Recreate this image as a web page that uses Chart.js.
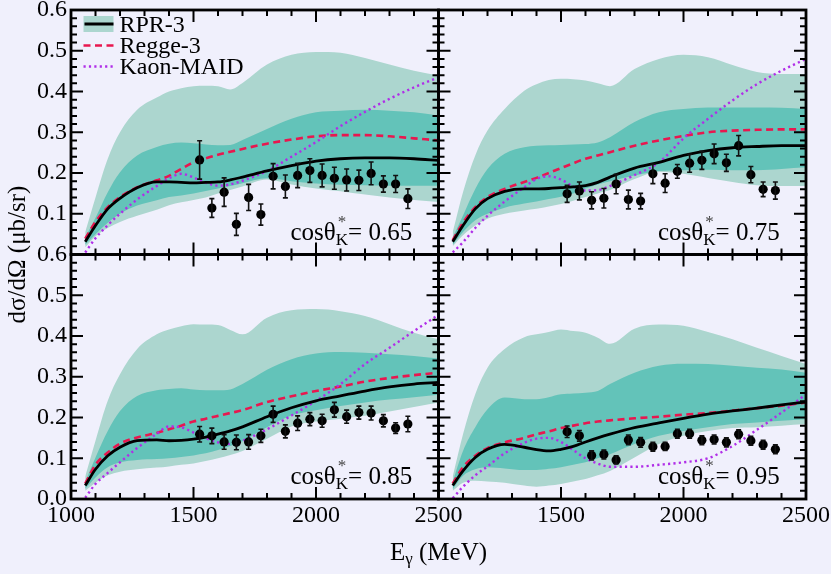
<!DOCTYPE html>
<html>
<head>
<meta charset="utf-8">
<script src="https://cdn.jsdelivr.net/npm/chart.js@4.4.1/dist/chart.umd.min.js"></script>
<style>
  html, body { margin: 0; padding: 0; background: #f0f0fc; }
  #wrap { width: 831px; height: 574px; position: relative; }
</style>
</head>
<body>
<div id="wrap"><canvas id="chart" width="831" height="574"></canvas></div>
<script>
// Photon energy grid (MeV) for the model curves
const energyGrid = [1058, 1100, 1150, 1200, 1270, 1350, 1400, 1450, 1500, 1550, 1600, 1650, 1700, 1800, 1900, 2000, 2100, 2200, 2300, 2400, 2500];

// cos = 0.65
const rpr065     = [0.031, 0.071, 0.112, 0.138, 0.164, 0.178, 0.178, 0.177, 0.176, 0.177, 0.178, 0.183, 0.190, 0.205, 0.218, 0.229, 0.235, 0.237, 0.237, 0.235, 0.231];
const regge065   = [0.039, 0.080, 0.116, 0.141, 0.165, 0.182, 0.193, 0.210, 0.226, 0.236, 0.245, 0.252, 0.259, 0.272, 0.282, 0.290, 0.293, 0.293, 0.290, 0.285, 0.280];
const maid065    = [0.005, 0.040, 0.072, 0.100, 0.135, 0.168, 0.187, 0.198, 0.189, 0.176, 0.169, 0.172, 0.181, 0.205, 0.240, 0.276, 0.315, 0.350, 0.382, 0.410, 0.435];
const outerHi065 = [0.055, 0.140, 0.235, 0.300, 0.355, 0.385, 0.400, 0.408, 0.413, 0.414, 0.413, 0.405, 0.421, 0.466, 0.490, 0.497, 0.495, 0.482, 0.466, 0.451, 0.439];
const innerHi065 = [0.042, 0.090, 0.153, 0.202, 0.243, 0.264, 0.272, 0.275, 0.273, 0.270, 0.268, 0.269, 0.281, 0.308, 0.333, 0.349, 0.353, 0.355, 0.353, 0.349, 0.341];
const innerLo065 = [0.024, 0.050, 0.078, 0.100, 0.120, 0.133, 0.141, 0.145, 0.150, 0.156, 0.162, 0.168, 0.175, 0.187, 0.180, 0.174, 0.171, 0.170, 0.169, 0.169, 0.169];
const outerLo065 = [0.018, 0.045, 0.065, 0.080, 0.095, 0.110, 0.121, 0.128, 0.134, 0.140, 0.150, 0.158, 0.167, 0.184, 0.172, 0.162, 0.155, 0.147, 0.140, 0.134, 0.129];

// cos = 0.75
const rpr075     = [0.031, 0.071, 0.112, 0.137, 0.155, 0.161, 0.161, 0.162, 0.164, 0.166, 0.169, 0.177, 0.190, 0.212, 0.226, 0.243, 0.255, 0.262, 0.265, 0.267, 0.267];
const regge075   = [0.035, 0.078, 0.116, 0.141, 0.161, 0.178, 0.188, 0.200, 0.212, 0.224, 0.235, 0.243, 0.251, 0.267, 0.280, 0.291, 0.300, 0.304, 0.306, 0.307, 0.307];
const maid075    = [0.005, 0.030, 0.065, 0.095, 0.130, 0.165, 0.185, 0.192, 0.184, 0.167, 0.157, 0.158, 0.168, 0.195, 0.226, 0.285, 0.333, 0.378, 0.418, 0.451, 0.480];
const outerHi075 = [0.055, 0.153, 0.243, 0.304, 0.357, 0.402, 0.418, 0.428, 0.431, 0.430, 0.427, 0.420, 0.413, 0.455, 0.480, 0.490, 0.484, 0.465, 0.448, 0.443, 0.443];
const innerHi075 = [0.042, 0.096, 0.161, 0.210, 0.247, 0.263, 0.267, 0.268, 0.269, 0.270, 0.271, 0.275, 0.288, 0.325, 0.349, 0.357, 0.361, 0.361, 0.361, 0.360, 0.357];
const innerLo075 = [0.024, 0.055, 0.084, 0.100, 0.115, 0.125, 0.130, 0.136, 0.142, 0.150, 0.162, 0.172, 0.180, 0.194, 0.205, 0.207, 0.208, 0.207, 0.207, 0.210, 0.214];
const outerLo075 = [0.020, 0.047, 0.071, 0.088, 0.100, 0.108, 0.112, 0.118, 0.124, 0.132, 0.141, 0.150, 0.158, 0.185, 0.203, 0.198, 0.188, 0.178, 0.170, 0.168, 0.168];

// cos = 0.85
const rpr085     = [0.033, 0.073, 0.106, 0.127, 0.143, 0.145, 0.143, 0.144, 0.147, 0.152, 0.159, 0.167, 0.177, 0.202, 0.224, 0.241, 0.253, 0.265, 0.275, 0.282, 0.286];
const regge085   = [0.038, 0.084, 0.114, 0.136, 0.151, 0.162, 0.171, 0.180, 0.190, 0.197, 0.204, 0.211, 0.218, 0.238, 0.252, 0.265, 0.276, 0.288, 0.297, 0.304, 0.310];
const maid085    = [0.003, 0.037, 0.064, 0.090, 0.125, 0.160, 0.178, 0.176, 0.163, 0.149, 0.139, 0.135, 0.143, 0.171, 0.205, 0.241, 0.282, 0.331, 0.371, 0.412, 0.452];
const outerHi085 = [0.055, 0.143, 0.241, 0.306, 0.368, 0.404, 0.416, 0.424, 0.429, 0.428, 0.427, 0.415, 0.404, 0.445, 0.463, 0.466, 0.461, 0.449, 0.429, 0.408, 0.392];
const innerHi085 = [0.042, 0.102, 0.167, 0.216, 0.253, 0.267, 0.270, 0.272, 0.269, 0.267, 0.267, 0.269, 0.282, 0.317, 0.343, 0.357, 0.361, 0.359, 0.355, 0.351, 0.345];
const innerLo085 = [0.025, 0.053, 0.078, 0.090, 0.096, 0.098, 0.100, 0.103, 0.107, 0.112, 0.120, 0.130, 0.142, 0.176, 0.205, 0.218, 0.228, 0.237, 0.244, 0.250, 0.256];
const outerLo085 = [0.020, 0.040, 0.058, 0.067, 0.073, 0.077, 0.080, 0.084, 0.087, 0.093, 0.100, 0.108, 0.118, 0.148, 0.178, 0.190, 0.197, 0.204, 0.215, 0.226, 0.237];

// cos = 0.95
const rpr095     = [0.033, 0.069, 0.102, 0.122, 0.134, 0.127, 0.121, 0.118, 0.122, 0.129, 0.140, 0.150, 0.159, 0.175, 0.187, 0.198, 0.208, 0.216, 0.223, 0.231, 0.238];
const regge095   = [0.038, 0.078, 0.106, 0.125, 0.139, 0.150, 0.159, 0.166, 0.174, 0.180, 0.186, 0.190, 0.193, 0.198, 0.202, 0.207, 0.211, 0.217, 0.223, 0.229, 0.237];
const maid095    = [0.002, 0.030, 0.058, 0.080, 0.112, 0.138, 0.148, 0.150, 0.140, 0.120, 0.100, 0.087, 0.079, 0.079, 0.084, 0.090, 0.100, 0.130, 0.170, 0.212, 0.257];
const outerHi095 = [0.055, 0.159, 0.257, 0.322, 0.368, 0.397, 0.404, 0.410, 0.416, 0.412, 0.408, 0.396, 0.381, 0.418, 0.428, 0.425, 0.410, 0.392, 0.371, 0.351, 0.331];
const innerHi095 = [0.042, 0.118, 0.176, 0.220, 0.249, 0.245, 0.245, 0.250, 0.257, 0.259, 0.261, 0.265, 0.282, 0.310, 0.327, 0.332, 0.331, 0.327, 0.322, 0.318, 0.310];
const innerLo095 = [0.024, 0.057, 0.073, 0.078, 0.075, 0.071, 0.071, 0.074, 0.078, 0.084, 0.090, 0.100, 0.110, 0.135, 0.155, 0.167, 0.176, 0.184, 0.188, 0.192, 0.196];
const outerLo095 = [0.020, 0.040, 0.045, 0.043, 0.040, 0.033, 0.030, 0.033, 0.037, 0.043, 0.049, 0.058, 0.069, 0.102, 0.135, 0.155, 0.167, 0.174, 0.176, 0.180, 0.184];

// Measured cross sections (µb/sr) with errors
const dataEnergy = [1525, 1575, 1625, 1675, 1725, 1775, 1825, 1875, 1925, 1975, 2025, 2075, 2125, 2175, 2225, 2275, 2325, 2375];
const sig065 = [0.232, 0.114, 0.153, 0.074, 0.140, 0.098, 0.192, 0.167, 0.194, 0.206, 0.194, 0.187, 0.183, 0.182, 0.199, 0.173, 0.173, 0.137];
const err065 = [0.047, 0.023, 0.035, 0.027, 0.032, 0.026, 0.031, 0.028, 0.030, 0.029, 0.028, 0.027, 0.027, 0.025, 0.028, 0.020, 0.021, 0.024];
const sig075 = [0.149, 0.156, 0.133, 0.138, 0.173, 0.135, 0.131, 0.198, 0.175, 0.204, 0.224, 0.231, 0.247, 0.225, 0.267, 0.196, 0.160, 0.157];
const err075 = [0.021, 0.022, 0.021, 0.024, 0.024, 0.023, 0.019, 0.024, 0.023, 0.017, 0.022, 0.022, 0.024, 0.021, 0.025, 0.020, 0.018, 0.021];
const sig085 = [0.159, 0.155, 0.140, 0.139, 0.140, 0.155, 0.208, 0.166, 0.186, 0.196, 0.192, 0.219, 0.202, 0.212, 0.211, 0.192, 0.174, 0.184];
const err085 = [0.019, 0.019, 0.018, 0.018, 0.018, 0.016, 0.020, 0.016, 0.018, 0.016, 0.016, 0.018, 0.016, 0.016, 0.017, 0.015, 0.013, 0.019];
const sig095 = [0.165, 0.155, 0.107, 0.109, 0.096, 0.145, 0.139, 0.128, 0.129, 0.160, 0.160, 0.144, 0.146, 0.139, 0.159, 0.143, 0.133, 0.122];
const err095 = [0.014, 0.013, 0.011, 0.011, 0.010, 0.012, 0.012, 0.011, 0.010, 0.011, 0.011, 0.011, 0.011, 0.011, 0.011, 0.011, 0.011, 0.011];

// Axis ticks
const energyTicks = [1000, 1500, 2000, 2500];
const sigmaTicks = [0.0, 0.1, 0.2, 0.3, 0.4, 0.5, 0.6];
const cosLabels = ['0.65', '0.75', '0.85', '0.95'];

const SERIF = "'Liberation Serif'";
const bandLight = '#acd6cf';
const bandDark = '#63c3b9';
const reggeColor = '#e8174f';
const maidColor = '#b02ee8';

const panels = [
  { x: 'xL', y: 'yT', cos: cosLabels[0], rpr: rpr065, regge: regge065, maid: maid065, oh: outerHi065, ih: innerHi065, il: innerLo065, ol: outerLo065, sig: sig065, err: err065 },
  { x: 'xR', y: 'yT', cos: cosLabels[1], rpr: rpr075, regge: regge075, maid: maid075, oh: outerHi075, ih: innerHi075, il: innerLo075, ol: outerLo075, sig: sig075, err: err075 },
  { x: 'xL', y: 'yB', cos: cosLabels[2], rpr: rpr085, regge: regge085, maid: maid085, oh: outerHi085, ih: innerHi085, il: innerLo085, ol: outerLo085, sig: sig085, err: err085 },
  { x: 'xR', y: 'yB', cos: cosLabels[3], rpr: rpr095, regge: regge095, maid: maid095, oh: outerHi095, ih: innerHi095, il: innerLo095, ol: outerLo095, sig: sig095, err: err095 }
];

const curve = arr => energyGrid.map((e, i) => ({ x: e, y: arr[i] }));
const datasets = [];
panels.forEach(p => {
  const base = { type: 'line', xAxisID: p.x, yAxisID: p.y, pointRadius: 0, cubicInterpolationMode: 'monotone', borderWidth: 2.6 };
  const hidden = 'rgba(0,0,0,0)';
  const iOuterLo = datasets.length;
  datasets.push({ ...base, data: curve(p.ol), borderColor: hidden, fill: false, order: 6 });
  datasets.push({ ...base, data: curve(p.oh), borderColor: hidden, backgroundColor: bandLight, fill: iOuterLo, order: 5 });
  const iInnerLo = datasets.length;
  datasets.push({ ...base, data: curve(p.il), borderColor: hidden, fill: false, order: 4 });
  datasets.push({ ...base, data: curve(p.ih), borderColor: hidden, backgroundColor: bandDark, fill: iInnerLo, order: 3 });
  datasets.push({ ...base, data: curve(p.maid), borderColor: maidColor, borderDash: [2.2, 3.2], borderWidth: 2.4, fill: false, order: 2 });
  datasets.push({ ...base, data: curve(p.regge), borderColor: reggeColor, borderDash: [7, 4.5], fill: false, order: 2 });
  datasets.push({ ...base, data: curve(p.rpr), borderColor: '#000', borderWidth: 2.8, fill: false, order: 1 });
  datasets.push({ type: 'scatter', xAxisID: p.x, yAxisID: p.y, data: dataEnergy.map((e, i) => ({ x: e, y: p.sig[i] })),
    pointRadius: 4.6, pointBackgroundColor: '#000', pointBorderWidth: 0, showLine: false, order: 0 });
});

const tickFont = { family: SERIF, size: 24 };
function yAxis(showZero, weight) {
  return {
    type: 'linear', position: 'left', stack: 'rows', stackWeight: 1, weight,
    min: sigmaTicks[0], max: sigmaTicks[sigmaTicks.length - 1],
    grid: { display: false, drawTicks: false }, border: { display: false },
    afterBuildTicks: s => { s.ticks = sigmaTicks.map(v => ({ value: v })); },
    ticks: { autoSkip: false, padding: 4, font: tickFont, color: '#000',
      callback: v => (!showZero && Math.abs(v) < 1e-9) ? '' : Number(v).toFixed(1) },
    afterFit: s => { s.width = 71; s.paddingTop = 0; s.paddingBottom = 0; }
  };
}
function xAxis(showFirst, weight) {
  return {
    type: 'linear', position: 'bottom', stack: 'cols', stackWeight: 1, weight,
    min: energyTicks[0], max: energyTicks[energyTicks.length - 1],
    grid: { display: false, drawTicks: false }, border: { display: false },
    afterBuildTicks: s => { s.ticks = energyTicks.map(v => ({ value: v })); },
    ticks: { autoSkip: false, maxRotation: 0, minRotation: 0, padding: 2, font: tickFont, color: '#000',
      callback: v => (!showFirst && v === energyTicks[0]) ? '' : String(v) },
    afterFit: s => { s.height = 75; s.paddingLeft = 0; s.paddingRight = 0; }
  };
}

// Frames, inward ticks, error bars, legend and labels
const decorations = {
  id: 'decorations',
  afterDatasetsDraw(chart) {
    const ctx = chart.ctx;
    ctx.save();
    ctx.strokeStyle = '#111';
    ctx.lineWidth = 1.6;
    panels.forEach(p => {
      const xs = chart.scales[p.x], ys = chart.scales[p.y];
      ctx.beginPath();
      dataEnergy.forEach((e, i) => {
        const px = xs.getPixelForValue(e);
        const lo = ys.getPixelForValue(p.sig[i] - p.err[i]);
        const hi = ys.getPixelForValue(p.sig[i] + p.err[i]);
        ctx.moveTo(px, lo); ctx.lineTo(px, hi);
        ctx.moveTo(px - 2.5, lo); ctx.lineTo(px + 2.5, lo);
        ctx.moveTo(px - 2.5, hi); ctx.lineTo(px + 2.5, hi);
      });
      ctx.stroke();
    });
    ctx.restore();
  },
  afterDraw(chart) {
    const ctx = chart.ctx;
    ctx.save();
    ctx.strokeStyle = '#000';
    ctx.fillStyle = '#000';
    panels.forEach(p => {
      const xs = chart.scales[p.x], ys = chart.scales[p.y];
      const L = xs.left, R = xs.right, T = ys.top, B = ys.bottom;
      ctx.lineWidth = 2;
      ctx.beginPath();
      for (let v = 1100; v < 2500; v += 100) {
        const px = xs.getPixelForValue(v);
        const len = v % 500 === 0 ? 12 : 6;
        ctx.moveTo(px, B); ctx.lineTo(px, B - len);
        ctx.moveTo(px, T); ctx.lineTo(px, T + len);
      }
      for (let k = 1; k < 30; k++) {
        const py = ys.getPixelForValue(k * 0.02);
        const len = k % 5 === 0 ? 12 : 6;
        ctx.moveTo(L, py); ctx.lineTo(L + len, py);
        ctx.moveTo(R, py); ctx.lineTo(R - len, py);
      }
      ctx.stroke();
      ctx.lineWidth = 2.8;
      ctx.strokeRect(L, T, R - L, B - T);

      // cos theta label
      let x = L + 219.5;
      const base = B - 15;
      ctx.textBaseline = 'alphabetic';
      ctx.textAlign = 'left';
      ctx.font = '25px ' + SERIF;
      ctx.fillStyle = '#000';
      ctx.fillText('cosθ', x, base);
      x += ctx.measureText('cosθ').width;
      ctx.font = '17px ' + SERIF;
      ctx.fillText('K', x, base + 5);
      ctx.fillStyle = '#444';
      ctx.fillText('*', x + 2, base - 13);
      ctx.fillStyle = '#000';
      x += ctx.measureText('K').width;
      ctx.font = '25px ' + SERIF;
      ctx.fillText('= ' + p.cos, x, base);
    });

    // legend in the upper-left panel
    const a = chart.chartArea;
    const lx = a.left + 12.5, lw = 30;
    ctx.fillStyle = bandLight;
    ctx.fillRect(lx, a.top + 6, lw, 16);
    ctx.lineWidth = 3;
    ctx.strokeStyle = '#000';
    ctx.beginPath(); ctx.moveTo(lx + 1, a.top + 14); ctx.lineTo(lx + lw, a.top + 14); ctx.stroke();
    ctx.lineWidth = 2.6;
    ctx.strokeStyle = reggeColor;
    ctx.setLineDash([7, 4.5]);
    ctx.beginPath(); ctx.moveTo(lx, a.top + 35.5); ctx.lineTo(lx + lw, a.top + 35.5); ctx.stroke();
    ctx.lineWidth = 2.4;
    ctx.strokeStyle = maidColor;
    ctx.setLineDash([2.2, 3.2]);
    ctx.beginPath(); ctx.moveTo(lx, a.top + 56.5); ctx.lineTo(lx + lw, a.top + 56.5); ctx.stroke();
    ctx.setLineDash([]);
    ctx.fillStyle = '#000';
    ctx.font = '24px ' + SERIF;
    ctx.textAlign = 'left';
    ctx.textBaseline = 'alphabetic';
    ctx.fillText('RPR-3', a.left + 48.5, a.top + 22);
    ctx.fillText('Regge-3', a.left + 48.5, a.top + 43);
    ctx.fillText('Kaon-MAID', a.left + 48.5, a.top + 64);

    // x-axis title
    ctx.font = '25px ' + SERIF;
    const wE = ctx.measureText('E').width;
    const rest = ' (MeV)';
    const wRest = ctx.measureText(rest).width;
    ctx.font = '17px ' + SERIF;
    const wG = ctx.measureText('γ').width;
    const tx = (a.left + a.right) / 2 - (wE + wG + wRest) / 2;
    ctx.font = '25px ' + SERIF;
    ctx.fillText('E', tx, 560);
    ctx.font = '17px ' + SERIF;
    ctx.fillText('γ', tx + wE, 564);
    ctx.font = '25px ' + SERIF;
    ctx.fillText(rest, tx + wE + wG, 560);

    // y-axis title
    ctx.translate(25, (a.top + a.bottom) / 2);
    ctx.rotate(-Math.PI / 2);
    ctx.textAlign = 'center';
    ctx.font = '25px ' + SERIF;
    ctx.fillText('dσ/dΩ (μb/sr)', 0, 0);
    ctx.restore();
  }
};

new Chart(document.getElementById('chart'), {
  type: 'line',
  data: { datasets },
  options: {
    responsive: false,
    devicePixelRatio: 1,
    animation: false,
    layout: { padding: { top: 10, right: 25, bottom: 0, left: 0 } },
    plugins: { legend: { display: false }, tooltip: { enabled: false }, title: { display: false } },
    scales: {
      xL: xAxis(true, 1),
      xR: xAxis(false, 2),
      yB: yAxis(true, 1),
      yT: yAxis(false, 2)
    }
  },
  plugins: [decorations]
});
</script>
</body>
</html>
